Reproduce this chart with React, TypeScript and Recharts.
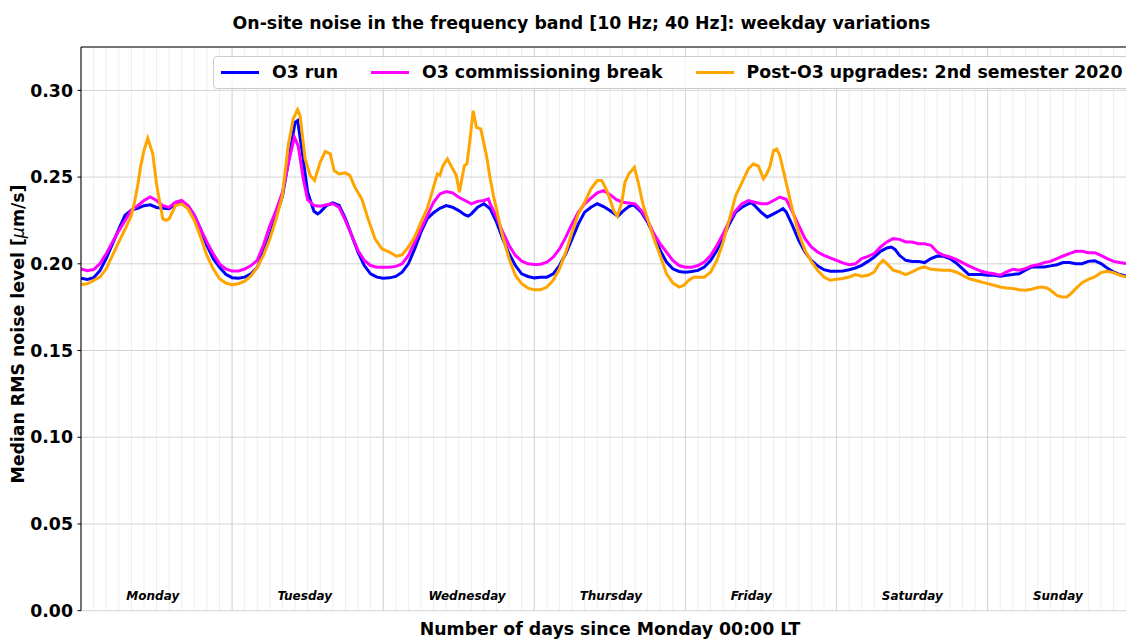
import React from 'react';
import { ComposedChart, Line, Scatter, XAxis, YAxis, CartesianGrid, ReferenceLine } from 'recharts';

const FONT = '"DejaVu Sans", Verdana, sans-serif';

const TITLE = 'On-site noise in the frequency band [10 Hz; 40 Hz]: weekday variations';
const X_LABEL = 'Number of days since Monday 00:00 LT';
const SERIES_NAMES = ['O3 run', 'O3 commissioning break', 'Post-O3 upgrades: 2nd semester 2020'];
const SERIES_COLORS = ['#0000ff', '#ff00ff', '#ffa500'];
const DAYS = ['Monday', 'Tuesday', 'Wednesday', 'Thursday', 'Friday', 'Saturday', 'Sunday'];
const Y_TICKS = [0, 0.05, 0.1, 0.15, 0.2, 0.25, 0.3];
const Y_MAX = 0.325;
const HOURS_PER_DAY = 24;
const DAY_TICKS = [0, 24, 48, 72, 96, 120, 144, 168];
const MINOR_STEP = 2;
const DAY_LABEL_OFFSET = 0.3; // fraction of a day where the weekday name starts
const DAY_LABEL_LEVEL = 0.006;

// x values are hours since Monday 00:00 LT
const O3_RUN_T = [
  0, 1, 2, 3, 4, 5, 6, 7, 8, 9, 10, 11, 12, 13, 14, 15, 16, 17, 18, 19, 20, 21, 22, 23,
  24, 25, 26, 27, 28, 29, 30, 31, 32, 33, 34, 34.4, 35, 36, 37, 37.6, 38, 39, 40, 41, 42, 43, 44, 45, 46, 47,
  48, 49, 50, 51, 52, 53, 54, 55, 56, 57, 58, 59, 60, 61, 61.5, 62, 63, 64, 65, 66, 67, 68, 69, 70, 71,
  72, 73, 74, 75, 76, 77, 78, 79, 80, 81, 82, 83, 84, 85, 85.3, 86, 87, 87.7, 88, 89, 90, 91, 92, 93, 94, 95,
  96, 97, 98, 99, 100, 101, 102, 103, 104, 105, 106, 106.5, 107, 108, 109, 110, 111, 111.5, 112, 113, 114, 115, 116, 117, 118, 119,
  120, 121, 122, 123, 124, 125, 126, 127, 128, 128.7, 129.3, 130, 131, 132, 133, 134, 135, 136, 137, 138, 139, 140, 141, 142, 143,
  144, 145, 146, 147, 148, 149, 150, 151, 152, 153, 154, 155, 156, 157, 158, 159, 160, 161, 162, 163, 164, 165, 166, 167, 168,
];
const O3_RUN_V = [
  0.1917, 0.191, 0.192, 0.196, 0.203, 0.2115, 0.22, 0.228, 0.231, 0.232, 0.2335, 0.234, 0.2325, 0.232, 0.2318, 0.2345, 0.236, 0.2335, 0.228, 0.22, 0.2105, 0.203, 0.198, 0.194,
  0.192, 0.1917, 0.1923, 0.1942, 0.198, 0.2067, 0.2163, 0.2278, 0.239, 0.26, 0.2816, 0.2826, 0.268, 0.2413, 0.2303, 0.2288, 0.2298, 0.2336, 0.2351, 0.2336, 0.226, 0.2163, 0.2067, 0.199, 0.1942, 0.1923,
  0.1917, 0.1919, 0.1927, 0.1952, 0.2, 0.2086, 0.2182, 0.226, 0.2295, 0.232, 0.2336, 0.2326, 0.2307, 0.2282, 0.2275, 0.2288, 0.2326, 0.2346, 0.2317, 0.224, 0.2144, 0.2058, 0.199, 0.1942, 0.1927,
  0.1919, 0.1923, 0.1923, 0.1942, 0.199, 0.2058, 0.2144, 0.223, 0.2298, 0.2326, 0.2346, 0.233, 0.2307, 0.2282, 0.2275, 0.2301, 0.233, 0.234, 0.2332, 0.2298, 0.224, 0.2163, 0.2077, 0.201, 0.1971, 0.1956,
  0.1952, 0.1956, 0.1962, 0.1981, 0.2019, 0.2077, 0.2154, 0.223, 0.2298, 0.2326, 0.2346, 0.2351, 0.2336, 0.2298, 0.2269, 0.2288, 0.2307, 0.2318, 0.2299, 0.2222, 0.2135, 0.2068, 0.202, 0.1988, 0.1966, 0.1957,
  0.1957, 0.1959, 0.1966, 0.1976, 0.1991, 0.2014, 0.2039, 0.2072, 0.2091, 0.2097, 0.2083, 0.2049, 0.202, 0.2014, 0.2014, 0.2007, 0.203, 0.2045, 0.2043, 0.203, 0.2005, 0.1972, 0.1938, 0.1938, 0.1938,
  0.1934, 0.1934, 0.1928, 0.1934, 0.1938, 0.1943, 0.1963, 0.1982, 0.1982, 0.1982, 0.1988, 0.1995, 0.2007, 0.2007, 0.2001, 0.2001, 0.2014, 0.2018, 0.2001, 0.1976, 0.1953, 0.1938, 0.193, 0.1925, 0.192,
];

const BREAK_T = [
  0, 1, 2, 3, 4, 5, 6, 7, 8, 9, 10, 11, 12, 13, 14, 15, 16, 17, 18, 19, 20, 21, 22, 23,
  24, 25, 26, 27, 28, 29, 30, 31, 32, 33, 33.9, 34.5, 35.3, 36, 37, 38, 39, 40, 41, 42, 43, 44, 45, 46, 47,
  48, 49, 50, 51, 52, 53, 54, 55, 56, 57, 58, 59, 60, 61, 62, 63, 64, 64.7, 65, 66, 67, 68, 69, 70, 71,
  72, 73, 74, 75, 76, 77, 78, 79, 80, 81, 82, 83, 84, 85, 86, 87, 88, 89, 90, 91, 92, 93, 94, 95,
  96, 97, 98, 99, 100, 101, 102, 103, 104, 105, 106, 107, 108, 109, 110, 111, 112, 113, 114, 115, 116, 117, 118, 119,
  120, 121, 122, 123, 124, 125, 126, 127, 128, 129, 130, 131, 132, 133, 134, 135, 136, 137, 138, 139, 140, 141, 142, 143,
  144, 145, 146, 147, 148, 149, 150, 151, 152, 153, 154, 155, 156, 157, 158, 159, 160, 161, 162, 163, 164, 165, 166, 167, 168,
];
const BREAK_V = [
  0.197, 0.196, 0.1967, 0.2, 0.2058, 0.2125, 0.219, 0.225, 0.231, 0.2335, 0.2365, 0.2385, 0.2365, 0.2335, 0.2325, 0.2355, 0.2365, 0.2335, 0.228, 0.22, 0.2125, 0.2058, 0.2, 0.197,
  0.1958, 0.1958, 0.197, 0.199, 0.202, 0.211, 0.222, 0.231, 0.2413, 0.259, 0.273, 0.268, 0.249, 0.237, 0.2336, 0.2332, 0.234, 0.2346, 0.2326, 0.225, 0.2163, 0.2077, 0.2019, 0.199, 0.198,
  0.198, 0.198, 0.1985, 0.2, 0.2048, 0.2125, 0.22, 0.2278, 0.2355, 0.2403, 0.2417, 0.2409, 0.2384, 0.2365, 0.2346, 0.236, 0.2365, 0.2374, 0.2346, 0.2269, 0.2182, 0.2106, 0.2048, 0.2015, 0.2,
  0.1996, 0.1998, 0.201, 0.2038, 0.2086, 0.2154, 0.223, 0.2298, 0.2346, 0.2378, 0.2409, 0.2422, 0.24, 0.2371, 0.2355, 0.2351, 0.2346, 0.2307, 0.225, 0.2173, 0.2115, 0.2067, 0.2019, 0.199,
  0.198, 0.198, 0.199, 0.201, 0.2048, 0.2106, 0.2173, 0.225, 0.2307, 0.2346, 0.2365, 0.2355, 0.2346, 0.2346, 0.2365, 0.2385, 0.2372, 0.2299, 0.2222, 0.2145, 0.2097, 0.2068, 0.2049, 0.2034,
  0.202, 0.2005, 0.1995, 0.2, 0.203, 0.2043, 0.2059, 0.2097, 0.2126, 0.2145, 0.2141, 0.2126, 0.2126, 0.2116, 0.2116, 0.2107, 0.2068, 0.2049, 0.2039, 0.2026, 0.2007, 0.1988, 0.1972, 0.1957,
  0.1949, 0.1943, 0.1934, 0.1953, 0.1968, 0.1963, 0.1972, 0.1988, 0.1995, 0.2007, 0.2014, 0.203, 0.2045, 0.2059, 0.2072, 0.2072, 0.2064, 0.2064, 0.2049, 0.203, 0.2014, 0.2007, 0.2001, 0.1995, 0.199,
];

const POST_T = [
  0, 1, 2, 3, 4, 5, 6, 7, 8, 8.5, 9, 9.5, 10, 10.6, 11, 11.4, 12, 12.5, 13, 13.5, 14, 14.5, 15, 16, 17, 18, 19, 20, 21, 22, 23,
  24, 25, 26, 27, 28, 29, 30, 31, 32, 32.9, 33.7, 34.4, 34.8, 35.6, 36.4, 37.1, 38, 38.8, 39.6, 40.2, 41, 42, 42.7, 43.5, 44.6, 45.6, 46.7, 47.8,
  49, 50.1, 51, 52, 53, 54, 55, 56, 56.6, 57, 57.5, 58.2, 58.9, 59.6, 60.1, 60.5, 60.9, 61.3, 61.8, 62.3, 62.8, 63.5, 64.4, 65, 65.5, 66, 66.8, 68, 69, 70, 71,
  72, 73, 74, 75, 76, 77, 78, 79, 80, 81, 82, 82.7, 83.4, 84, 84.6, 85.2, 85.9, 86.4, 87, 87.9, 88.5, 89.3, 90, 91, 92, 93, 94, 95, 95.7,
  96.5, 97.3, 98, 99, 100, 101, 102, 103, 104, 105, 106, 106.8, 107.6, 108.4, 108.9, 109.4, 110, 110.5, 111, 111.8, 112.5, 113, 114, 115, 116, 117, 118, 119,
  120, 121, 122, 123, 124, 125, 126, 126.7, 127.4, 128, 129, 130, 131, 132, 133, 134, 135, 136, 137, 138, 139, 140, 141, 142, 143,
  144, 145, 146, 147, 148, 149, 150, 151, 152, 152.6, 153.4, 154, 155, 155.8, 156.6, 157.4, 158, 159, 160, 161, 162, 163, 164, 165, 166, 167, 168,
];
const POST_V = [
  0.188, 0.1885, 0.1904, 0.1923, 0.1971, 0.2048, 0.2125, 0.22, 0.2278, 0.2355, 0.245, 0.2566, 0.2653, 0.2724, 0.268, 0.2634, 0.246, 0.2355, 0.2259, 0.225, 0.2259, 0.2298, 0.2336, 0.2346, 0.2317, 0.225, 0.2154, 0.2048, 0.1971, 0.1914, 0.1889,
  0.1879, 0.1885, 0.19, 0.193, 0.198, 0.205, 0.2144, 0.226, 0.2394, 0.268, 0.2835, 0.2889, 0.2854, 0.2605, 0.251, 0.248, 0.2586, 0.2647, 0.2634, 0.2538, 0.2518, 0.2524, 0.251, 0.2442, 0.2374, 0.2259, 0.2144, 0.2086,
  0.2067, 0.2044, 0.2052, 0.2096, 0.2154, 0.224, 0.232, 0.2442, 0.2518, 0.251, 0.2566, 0.2605, 0.2557, 0.251, 0.2413, 0.249, 0.2566, 0.2576, 0.272, 0.2883, 0.2787, 0.2778, 0.2624, 0.249, 0.2394, 0.2317, 0.2182, 0.2029, 0.1933, 0.1885, 0.186,
  0.185, 0.185, 0.1866, 0.1904, 0.1971, 0.2067, 0.2182, 0.2288, 0.2355, 0.2432, 0.248, 0.248, 0.2432, 0.2374, 0.2307, 0.2275, 0.2355, 0.247, 0.2518, 0.2557, 0.247, 0.2336, 0.2259, 0.2144, 0.2048, 0.1942, 0.189, 0.1866, 0.1875,
  0.1904, 0.1923, 0.1923, 0.1923, 0.1952, 0.2019, 0.2125, 0.2259, 0.2394, 0.247, 0.2547, 0.2576, 0.2563, 0.249, 0.2518, 0.2557, 0.2653, 0.2662, 0.2624, 0.25, 0.239, 0.231, 0.2174, 0.2078, 0.2014, 0.1963, 0.1924, 0.1905,
  0.1911, 0.1915, 0.1924, 0.1938, 0.1928, 0.1934, 0.1953, 0.1995, 0.202, 0.2001, 0.1963, 0.1953, 0.1938, 0.1953, 0.1972, 0.1982, 0.1968, 0.1966, 0.1963, 0.1963, 0.1953, 0.1934, 0.1915, 0.1905, 0.1895,
  0.1886, 0.1876, 0.1866, 0.1861, 0.1857, 0.1851, 0.1847, 0.1853, 0.1863, 0.1866, 0.1861, 0.1847, 0.1818, 0.1809, 0.1809, 0.1834, 0.1857, 0.1891, 0.191, 0.1924, 0.1949, 0.1957, 0.1949, 0.1934, 0.1924, 0.192, 0.1915,
];

const zip = (t: number[], v: number[]) => t.map((x, i) => ({ t: x, v: v[i] }));
const SERIES = [zip(O3_RUN_T, O3_RUN_V), zip(BREAK_T, BREAK_V), zip(POST_T, POST_V)];

const MINOR_TICKS: number[] = [];
for (let h = 0; h <= 7 * HOURS_PER_DAY; h += MINOR_STEP) MINOR_TICKS.push(h);

const DAY_LABELS = DAYS.map((name, i) => ({ t: (i + DAY_LABEL_OFFSET) * HOURS_PER_DAY, v: DAY_LABEL_LEVEL, name }));

const EmptyTick = () => <g />;

const DayLabel = (props: any) => (
  <text
    x={props.cx}
    y={props.cy}
    fontFamily={FONT}
    fontSize={12}
    fontWeight="bold"
    fontStyle="italic"
    fill="#000"
  >
    {props.payload.name}
  </text>
);

export default function App() {
  return (
    <div
      style={{
        position: 'fixed',
        left: 0,
        top: 0,
        width: 1126,
        height: 639,
        overflow: 'hidden',
        background: '#fff',
        fontFamily: FONT,
      }}
    >
      <ComposedChart width={1160} height={639} margin={{ top: 47, right: 21.3, bottom: 28.3, left: 0 }}>
        <CartesianGrid xAxisId="minor" horizontal={false} stroke="#eeeeee" strokeWidth={1} />
        <CartesianGrid xAxisId="major" stroke="#d4d4d4" strokeWidth={1} />
        <XAxis
          xAxisId="major"
          type="number"
          dataKey="t"
          domain={[0, 7 * HOURS_PER_DAY]}
          ticks={DAY_TICKS}
          interval={0}
          tick={EmptyTick}
          tickSize={3.5}
          height={0}
          stroke="#000"
          allowDataOverflow
        />
        <XAxis
          xAxisId="minor"
          type="number"
          dataKey="t"
          domain={[0, 7 * HOURS_PER_DAY]}
          ticks={MINOR_TICKS}
          interval={0}
          tick={EmptyTick}
          tickSize={2}
          height={0}
          axisLine={false}
          stroke="#000"
          allowDataOverflow
        />
        <YAxis
          type="number"
          dataKey="v"
          domain={[0, Y_MAX]}
          ticks={Y_TICKS}
          interval={0}
          width={81}
          tickSize={3.5}
          tickMargin={4.5}
          tickFormatter={(v: number) => v.toFixed(2)}
          tick={{ fill: '#000', fontSize: 17.33, fontWeight: 'bold', fontFamily: FONT }}
          stroke="#000"
          allowDataOverflow
        />
        <ReferenceLine xAxisId="major" y={Y_MAX} stroke="#000" strokeWidth={1} />
        {SERIES.map((data, i) => (
          <Line
            key={SERIES_NAMES[i]}
            xAxisId="major"
            data={data}
            dataKey="v"
            name={SERIES_NAMES[i]}
            type="linear"
            stroke={SERIES_COLORS[i]}
            strokeWidth={3}
            dot={false}
            activeDot={false}
            isAnimationActive={false}
          />
        ))}
        <Scatter xAxisId="major" data={DAY_LABELS} dataKey="v" shape={DayLabel} isAnimationActive={false} />
      </ComposedChart>

      <svg
        width={1126}
        height={639}
        style={{ position: 'absolute', left: 0, top: 0, pointerEvents: 'none' }}
      >
        <text x={581.5} y={28.5} textAnchor="middle" fontFamily={FONT} fontSize={17.33} fontWeight="bold" fill="#000">
          {TITLE}
        </text>
        <text x={610} y={635} textAnchor="middle" fontFamily={FONT} fontSize={17.33} fontWeight="bold" fill="#000">
          {X_LABEL}
        </text>
        <text
          x={24}
          y={334}
          textAnchor="middle"
          transform="rotate(-90 24 334)"
          fontFamily={FONT}
          fontSize={17.33}
          fontWeight="bold"
          fill="#000"
        >
          Median RMS noise level [<tspan fontStyle="italic" fontWeight="normal">μ</tspan>m/s]
        </text>
      </svg>

      <div
        style={{
          position: 'absolute',
          left: 213,
          top: 55.5,
          height: 33,
          boxSizing: 'border-box',
          border: '1px solid #cccccc',
          borderRadius: 4,
          background: 'rgba(255,255,255,0.8)',
          display: 'flex',
          alignItems: 'center',
          paddingLeft: 7,
          paddingRight: 12,
          fontFamily: FONT,
          fontWeight: 'bold',
          fontSize: 17.33,
          whiteSpace: 'nowrap',
          color: '#000',
        }}
      >
        {SERIES_NAMES.map((name, i) => (
          <React.Fragment key={name}>
            <span style={{ display: 'inline-block', width: 38, height: 3, background: SERIES_COLORS[i], marginRight: 13 }} />
            <span style={{ marginRight: i < SERIES_NAMES.length - 1 ? 33 : 0 }}>{name}</span>
          </React.Fragment>
        ))}
      </div>
    </div>
  );
}
